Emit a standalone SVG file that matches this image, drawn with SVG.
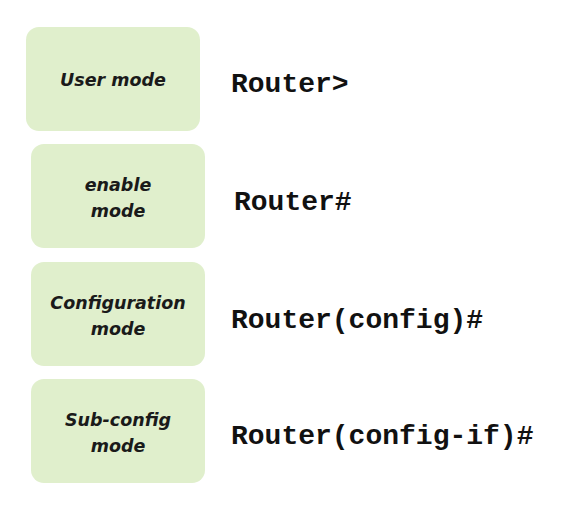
<svg xmlns="http://www.w3.org/2000/svg" width="572" height="514" viewBox="0 0 572 514">
<style>
.box{fill:#e0efcc;}
.lbl{font-family:"DejaVu Sans","Liberation Sans",sans-serif;font-size:17.5px;font-weight:bold;font-style:italic;fill:#1a1a1a;text-anchor:middle;}
.cmd{font-family:"Liberation Mono","Courier New",monospace;font-size:28px;font-weight:bold;fill:#111;}
</style>
<rect width="572" height="514" fill="#fff"/>
<g id="node-user">
<rect class="box" x="26" y="27" width="174" height="104" rx="13"/>
<text class="lbl" x="113" y="86">User mode</text>
<text class="cmd" x="231" y="92">Router&gt;</text>
</g>
<g id="node-enable">
<rect class="box" x="31" y="144" width="174" height="104" rx="13"/>
<text class="lbl" x="118" y="191">enable</text>
<text class="lbl" x="118" y="217">mode</text>
<text class="cmd" x="234" y="210">Router#</text>
</g>
<g id="node-config">
<rect class="box" x="31" y="262" width="174" height="104" rx="13"/>
<text class="lbl" x="118" y="309">Configuration</text>
<text class="lbl" x="118" y="335">mode</text>
<text class="cmd" x="231" y="328">Router(config)#</text>
</g>
<g id="node-subconfig">
<rect class="box" x="31" y="379" width="174" height="104" rx="13"/>
<text class="lbl" x="118" y="426">Sub-config</text>
<text class="lbl" x="118" y="452">mode</text>
<text class="cmd" x="231" y="444">Router(config-if)#</text>
</g>
<g id="connectors"></g>
</svg>
